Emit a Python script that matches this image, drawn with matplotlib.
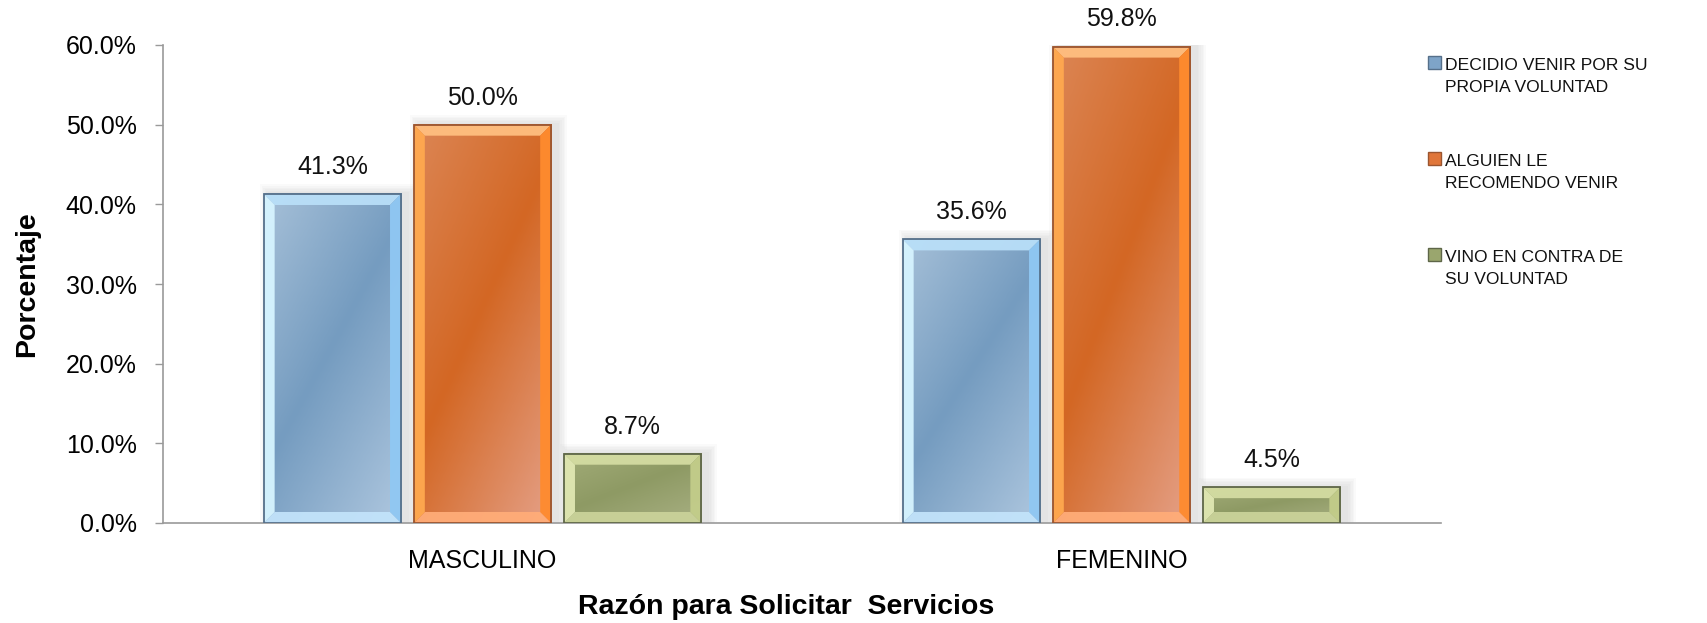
import matplotlib
matplotlib.use("Agg")
import matplotlib.pyplot as plt
import numpy as np
from matplotlib.colors import LinearSegmentedColormap
from matplotlib.patches import Polygon, Rectangle
from matplotlib.ticker import FuncFormatter

plt.rcParams["font.family"] = ["Liberation Sans", "DejaVu Sans"]

CATEGORIAS = ["MASCULINO", "FEMENINO"]
SERIES = ["DECIDIO VENIR POR SU\nPROPIA VOLUNTAD",
          "ALGUIEN LE\nRECOMENDO VENIR",
          "VINO EN CONTRA DE\nSU VOLUNTAD"]
VOLUNTAD_PROPIA = [41.3, 35.6]
RECOMENDADO = [50.0, 59.8]
EN_CONTRA = [8.7, 4.5]
Y_TICKS = [0, 10, 20, 30, 40, 50, 60]

VALORES = [VOLUNTAD_PROPIA, RECOMENDADO, EN_CONTRA]

# colores por serie: degradado (claro, oscuro, claro) y biseles
ESTILOS = [
    dict(grad=["#a6c0d8", "#759cc0", "#a9c3dc"], left="#d6f4ff", top="#b9dff8",
         right="#90c8f3", bottom="#c2e3fa", edge="#56708a", legend="#7ea4c8"),
    dict(grad=["#dc8655", "#d36724", "#e39b7e"], left="#ffa94f", top="#ffbf80",
         right="#ff8b2e", bottom="#ffac78", edge="#9a5530", legend="#e0763a"),
    dict(grad=["#a2ac78", "#8e9a64", "#a6ae80"], left="#e0e7b2", top="#d4dca2",
         right="#c3cd8a", bottom="#cad299", edge="#5e6648", legend="#9aa66e"),
]

ANCHO = 0.215
DESPL = [-0.235, 0.0, 0.235]
BISEL_PX = 11
GRIS_EJE = "#9a9a9a"
FUENTE = 18


def degradado(estilo):
    cmap = LinearSegmentedColormap.from_list("g", estilo["grad"])
    u = np.linspace(0, 1, 40)[None, :]
    v = np.linspace(0, 1, 120)[:, None]
    return cmap(np.clip(0.45 * u + 0.6 * v, 0, 1))


def barra_biselada(ax, x0, ancho, alto, estilo, px_x, px_y):
    x1 = x0 + ancho
    # sombra suave, sobre todo a la derecha
    for k in range(1, 7):
        e = k * 1.6
        ax.add_patch(Rectangle((x0 + (6 - e) / px_x, -e / px_y), ancho + 2 * e / px_x,
                               alto + (2 * e) / px_y, facecolor="#808080",
                               edgecolor="none", alpha=0.035, zorder=1))
    ax.imshow(degradado(estilo), extent=(x0, x1, 0, alto), aspect="auto",
              origin="upper", interpolation="bilinear", zorder=2)
    bx = BISEL_PX / px_x
    by = min(BISEL_PX / px_y, alto / 3)
    y1 = alto
    caras = {
        "top": [(x0, y1), (x1, y1), (x1 - bx, y1 - by), (x0 + bx, y1 - by)],
        "bottom": [(x0, 0), (x1, 0), (x1 - bx, by), (x0 + bx, by)],
        "left": [(x0, 0), (x0, y1), (x0 + bx, y1 - by), (x0 + bx, by)],
        "right": [(x1, 0), (x1, y1), (x1 - bx, y1 - by), (x1 - bx, by)],
    }
    for lado, pts in caras.items():
        ax.add_patch(Polygon(pts, closed=True, facecolor=estilo[lado],
                             edgecolor="none", alpha=0.95, zorder=3))
    ax.add_patch(Rectangle((x0, 0), ancho, alto, facecolor="none",
                           edgecolor=estilo["edge"], linewidth=1.3, zorder=4))


fig = plt.figure(figsize=(17.08, 6.23), dpi=100)
ax = fig.add_axes([163 / 1708, 100 / 623, 1278 / 1708, 478 / 623])
ax.set_xlim(-0.5, 1.5)
ax.set_ylim(0, 60)
ax.set_autoscale_on(False)

px_x = 1278 / 2.0
px_y = 478 / 60.0

x = np.arange(len(CATEGORIAS))
for i, (vals, estilo) in enumerate(zip(VALORES, ESTILOS)):
    for xc, v in zip(x, vals):
        x0 = xc + DESPL[i] - ANCHO / 2
        barra_biselada(ax, x0, ANCHO, v, estilo, px_x, px_y)
        ax.annotate(f"{v:.1f}%", (xc + DESPL[i], v), xytext=(0, 14.5),
                    textcoords="offset points", ha="center", va="baseline",
                    fontsize=FUENTE, color="#111111")

ax.set_xticks(x)
ax.set_xticklabels(CATEGORIAS, fontsize=FUENTE)
ax.tick_params(axis="x", length=0, pad=19)
ax.set_yticks(Y_TICKS)
ax.yaxis.set_major_formatter(FuncFormatter(lambda v, _: f"{v:.1f}%"))
ax.tick_params(axis="y", labelsize=FUENTE, length=6, width=1, color=GRIS_EJE, pad=13)

for lado in ["top", "right"]:
    ax.spines[lado].set_visible(False)
for lado in ["left", "bottom"]:
    ax.spines[lado].set_color(GRIS_EJE)
    ax.spines[lado].set_linewidth(1.2)

ax.set_ylabel("Porcentaje", fontsize=20.5, fontweight="bold")
ax.yaxis.set_label_coords(-0.106, 0.5)
ax.yaxis.label.set_va("center")
ax.set_xlabel("Razón para Solicitar  Servicios", fontsize=20.5, fontweight="bold")
ax.xaxis.set_label_coords(0.4875, -0.176)
ax.xaxis.label.set_va("center")

# leyenda manual
W, H = 1708, 623
for k, (nombre, estilo) in enumerate(zip(SERIES, ESTILOS)):
    cap = 56 + 96 * k
    fig.patches.append(Rectangle((1428 / W, 1 - (cap + 13) / H), 13 / W, 13 / H,
                                 transform=fig.transFigure, facecolor=estilo["legend"],
                                 edgecolor=estilo["edge"], linewidth=1.0))
    fig.text(1445 / W, 1 - (cap + 1.5) / H, nombre, fontsize=12.6, va="top", ha="left",
             linespacing=1.62, color="#111111")

fig.savefig("out.png", dpi=100, facecolor="white")
